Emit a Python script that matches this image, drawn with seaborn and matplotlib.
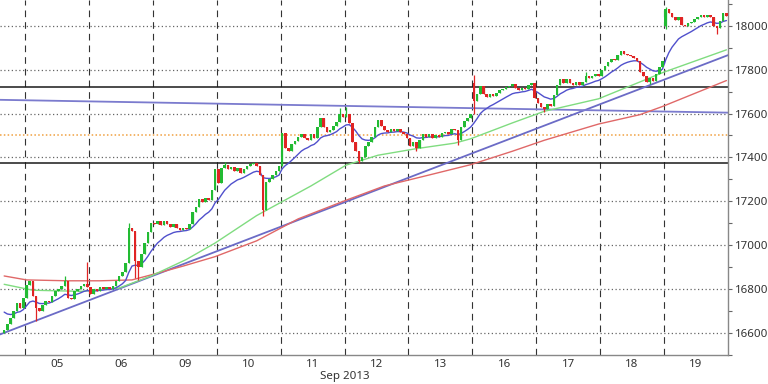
import numpy as np
import pandas as pd
import matplotlib
matplotlib.use('Agg')
import matplotlib.pyplot as plt
import matplotlib.transforms as mtransforms
import seaborn as sns


# Hourly closes, one list per trading day (Sep 2013)
day_labels = ['04', '05', '06', '09', '10', '11', '12', '13', '16', '17', '18', '19']
first_open = 16600
c04 = [16615, 16640, 16670, 16700, 16735, 16715, 16760]
c05 = [16820, 16835, 16770, 16715, 16700, 16730, 16745, 16740, 16770, 16790,
       16800, 16815, 16835, 16760, 16755, 16790, 16800, 16815, 16825, 16810]
c06 = [16780, 16800, 16790, 16810, 16800, 16810, 16800, 16815, 16835, 16860,
       16880, 16920, 17080, 17065, 16930, 16900, 16960, 17010, 17060, 17100]
c09 = [17095, 17110, 17090, 17110, 17095, 17085, 17095, 17080, 17070, 17080,
       17075, 17095, 17150, 17175, 17210, 17195, 17215, 17205, 17250, 17345]
c10 = [17285, 17350, 17365, 17345, 17355, 17340, 17350, 17330, 17345, 17360,
       17370, 17375, 17360, 17320, 17160, 17290, 17300, 17320, 17340, 17360]
c11 = [17510, 17445, 17430, 17460, 17475, 17495, 17505, 17490, 17480, 17505,
       17490, 17540, 17580, 17540, 17515, 17525, 17545, 17560, 17600, 17585]
c12 = [17600, 17555, 17470, 17430, 17385, 17400, 17450, 17470, 17495, 17540,
       17570, 17545, 17525, 17515, 17530, 17520, 17530, 17515, 17505, 17490]
c13 = [17450, 17470, 17445, 17480, 17505, 17495, 17505, 17490, 17500, 17495,
       17510, 17515, 17505, 17530, 17525, 17480, 17540, 17565, 17580, 17600]
c16 = [17655, 17690, 17725, 17690, 17675, 17690, 17680, 17695, 17705, 17710,
       17720, 17725, 17735, 17715, 17705, 17715, 17710, 17730, 17740, 17670]
c17 = [17650, 17630, 17620, 17645, 17635, 17685, 17730, 17755, 17740, 17755,
       17740, 17730, 17745, 17730, 17745, 17770, 17760, 17770, 17780, 17770]
c18 = [17800, 17815, 17835, 17850, 17845, 17865, 17885, 17870, 17865, 17860,
       17855, 17840, 17790, 17770, 17745, 17760, 17750, 17780, 17810, 17840]
c19 = [18075, 18060, 18040, 18025, 18040, 18005, 18000, 18010, 18015, 18030,
       18040, 18050, 18040, 18050, 18040, 18000, 17990, 18020, 18060, 18045]

# Gap opens (day, bar of day): price
gap_open = {('16', 0): 17740, ('19', 0): 18000}

# Noticeable wicks (day, bar of day): price
wick_hi = {('05', 12): 16860, ('05', 19): 16925, ('06', 12): 17100,
           ('10', 2): 17380, ('11', 18): 17625, ('12', 0): 17630,
           ('16', 0): 17775, ('17', 15): 17790, ('19', 0): 18085}
wick_lo = {('05', 3): 16655, ('06', 14): 16850, ('06', 15): 16840,
           ('10', 14): 17135, ('12', 4): 17375, ('13', 2): 17430,
           ('13', 15): 17455, ('16', 0): 17600, ('17', 2): 17605,
           ('18', 15): 17735, ('19', 0): 17985, ('19', 16): 17960}

# Slow moving averages read at a few bars
green_bar = [0, 9, 24, 36, 46, 57, 66, 79, 96, 107, 117, 129, 141, 146, 159,
             169, 186, 200, 206, 226]
green_val = [16822, 16795, 16790, 16805, 16860, 16935, 17010, 17135, 17270,
             17365, 17410, 17440, 17465, 17485, 17557, 17610, 17667, 17750,
             17786, 17890]
red_bar = [0, 7, 20, 30, 40, 46, 56, 66, 79, 92, 107, 119, 133, 146, 159, 169,
           186, 199, 206, 226]
red_val = [16860, 16842, 16838, 16838, 16842, 16865, 16905, 16948, 17020,
           17120, 17205, 17270, 17320, 17367, 17428, 17478, 17552, 17595,
           17632, 17750]
fast_seed = 16710

# Drawn levels
trend_up = ([0, 226], [16601, 17863])
trend_flat = ([0, 226], [17662, 17604])
black_levels = [17720, 17375]
orange_level = 17500


# Assemble bars
day_closes = [c04, c05, c06, c09, c10, c11, c12, c13, c16, c17, c18, c19]
rows = []
for day, closes in zip(day_labels, day_closes):
    for j, c in enumerate(closes):
        rows.append({'day': day, 'j': j, 'close': c})
df = pd.DataFrame(rows)
df['bar'] = np.arange(len(df))
df['open'] = df['close'].shift(1).fillna(first_open)
for (d, j), v in gap_open.items():
    df.loc[(df.day == d) & (df.j == j), 'open'] = v
df['high'] = df[['open', 'close']].max(axis=1)
df['low'] = df[['open', 'close']].min(axis=1)
for (d, j), v in wick_hi.items():
    df.loc[(df.day == d) & (df.j == j), 'high'] = v
for (d, j), v in wick_lo.items():
    df.loc[(df.day == d) & (df.j == j), 'low'] = v
fast = pd.Series([fast_seed] + df['close'].tolist()).ewm(span=12, adjust=False).mean()
df['fast'] = fast.values[1:]

bounds = df.groupby('day', sort=False)['bar'].max().values[:-1] + 0.5
mids = df.groupby('day', sort=False)['bar'].mean().values

sns.set_style('white')
plt.rcParams['font.family'] = ['Noto Sans', 'DejaVu Sans']

fig = plt.figure(figsize=(7.68, 3.84), dpi=100)
ax = fig.add_axes([0, 29 / 384, 728 / 768, 355 / 384])

# Levels and trend lines
for lvl in black_levels:
    ax.axhline(lvl, color='#1a1a1a', lw=1.1, zorder=2)
ax.axhline(orange_level, color='#f0a040', lw=1.1, ls=(0, (1, 1.5)), zorder=2)
ax.axline((trend_up[0][0], trend_up[1][0]), (trend_up[0][1], trend_up[1][1]),
          color='#6b6bc6', lw=1.3, zorder=2)
ax.axline((trend_flat[0][0], trend_flat[1][0]), (trend_flat[0][1], trend_flat[1][1]),
          color='#7b7bce', lw=1.3, zorder=2)

# Moving averages
sns.lineplot(x=red_bar, y=red_val, color='#e06868', lw=1, ax=ax, zorder=3)
sns.lineplot(x=green_bar, y=green_val, color='#80dc80', lw=1, ax=ax, zorder=3)
sns.lineplot(x='bar', y='fast', data=df, color='#5050cc', lw=1, ax=ax, zorder=3)

# Candles
up = df['close'] >= df['open']
cols = np.where(up, '#22bb33', '#e02424')
ax.vlines(df['bar'], df['low'], df['high'], colors=cols, lw=0.9, zorder=4)
ax.bar(df['bar'], (df['close'] - df['open']).where(lambda s: s.abs() > 4, 4),
       bottom=df['open'], width=0.8, color=cols, lw=0, zorder=5)

# Axes and grid
ax.set_xlim(-1.3, len(df) - 0.5)
ax.set_ylim(16551, 18117)
ax.set_yticks(np.arange(16600, 18001, 200))
ax.set_yticks(np.arange(16500, 18101, 100), minor=True)
ax.yaxis.tick_right()
ax.set_xticks(mids[1:])
ax.set_xticklabels(day_labels[1:])
ax.set_xticks(bounds, minor=True)
ax.yaxis.grid(True, which='major', color='#666666', lw=0.9, ls=(0, (1, 2)))
ax.xaxis.grid(True, which='minor', color='#333333', lw=0.8, ls=(0, (6, 4.5)))
ax.set_axisbelow(True)
ax.tick_params(axis='y', which='both', direction='out', length=3, width=0.8,
               color='#666666', labelsize=8.3, labelcolor='#333333', pad=2,
               right=True, left=False)
ax.tick_params(axis='x', which='both', length=0, labelsize=8.3,
               labelcolor='#333333', pad=3)
for s in ['top', 'left']:
    ax.spines[s].set_visible(False)
for s in ['right', 'bottom']:
    ax.spines[s].set_color('#888888')
    ax.spines[s].set_linewidth(1)
ax.set_xlabel('')
ax.set_ylabel('')

trans = mtransforms.blended_transform_factory(ax.transData, ax.transAxes)
ax.text(bounds[5], -22 / 355, 'Sep 2013', transform=trans, ha='center',
        va='center', fontsize=8.3, color='#333333')

fig.savefig('out.png', dpi=100)
